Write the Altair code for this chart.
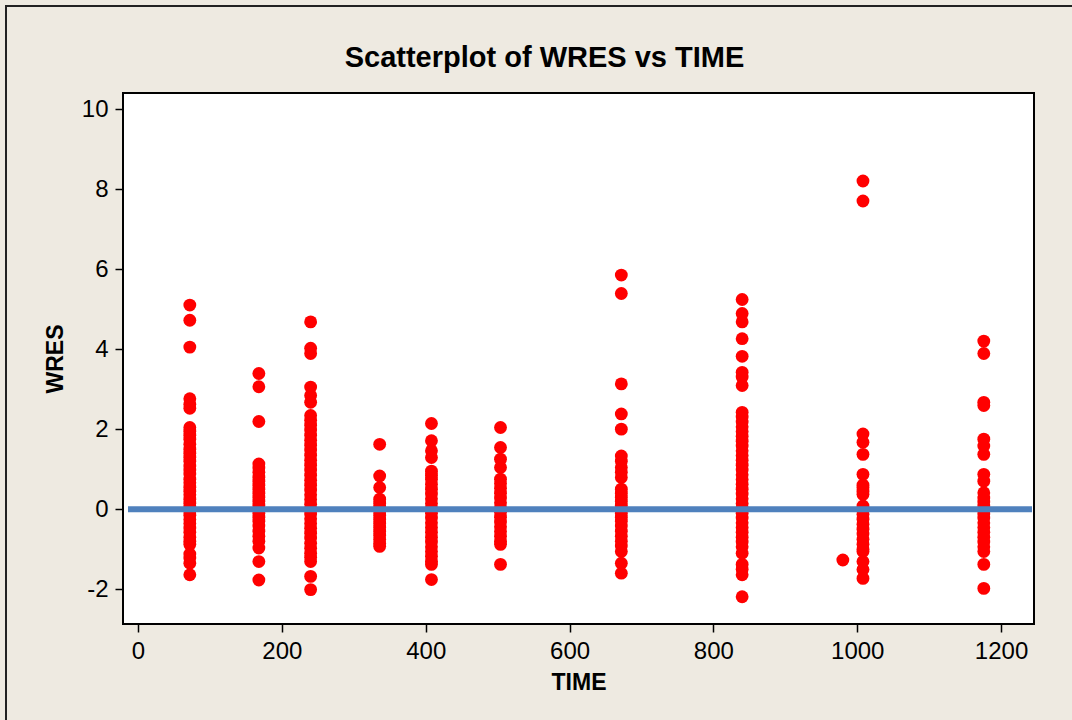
import altair as alt
import pandas as pd

# ---- data (TIME column -> WRES values) ----
t72 = [5.1, 4.72, 4.05, 2.76, 2.62, 2.52, 2.04, 1.95, 1.85, 1.75, 1.62, 1.5, 1.4, 1.3, 1.2,
       1.08, 0.98, 0.88, 0.75, 0.66, 0.55, 0.45, 0.36, 0.25, 0.15, 0.05, -0.05, -0.15,
       -0.26, -0.36, -0.47, -0.58, -0.7, -0.8, -0.88, -1.12, -1.22, -1.35, -1.64]
t168 = [3.39, 3.06, 2.19, 1.13, 1.03, 0.92, 0.8, 0.7, 0.6, 0.5, 0.4, 0.3, 0.2, 0.1, 0.0,
        -0.1, -0.2, -0.3, -0.42, -0.55, -0.68, -0.8, -0.97, -1.31, -1.77]
t240 = [4.68, 4.02, 3.89, 3.05, 2.84, 2.67, 2.34, 2.22, 2.1, 1.98, 1.85, 1.72, 1.6, 1.48,
        1.35, 1.22, 1.1, 0.98, 0.85, 0.72, 0.6, 0.48, 0.36, 0.24, 0.12, 0.0, -0.12, -0.24,
        -0.36, -0.48, -0.6, -0.72, -0.85, -0.98, -1.1, -1.2, -1.31, -1.68, -2.01]
t336 = [1.62, 0.83, 0.54, 0.25, 0.15, 0.05, -0.05, -0.15, -0.25, -0.35, -0.45, -0.55,
        -0.65, -0.75, -0.85, -0.93]
t408 = [2.14, 1.71, 1.46, 1.29, 0.95, 0.85, 0.75, 0.62, 0.5, 0.38, 0.26, 0.14, 0.02, -0.1,
        -0.22, -0.34, -0.46, -0.58, -0.7, -0.82, -0.94, -1.06, -1.18, -1.3, -1.38, -1.76]
t504 = [2.04, 1.54, 1.25, 1.04, 0.75, 0.64, 0.52, 0.4, 0.28, 0.16, 0.04, -0.08, -0.2,
        -0.32, -0.44, -0.56, -0.68, -0.8, -0.88, -1.38]
t672 = [5.85, 5.39, 3.13, 2.38, 2.0, 1.33, 1.2, 1.04, 0.92, 0.79, 0.5, 0.4, 0.3, 0.2, 0.1,
        0.0, -0.1, -0.2, -0.3, -0.42, -0.55, -0.68, -0.8, -0.92, -1.06, -1.35, -1.6]
t840 = [5.24, 4.89, 4.68, 4.26, 3.82, 3.42, 3.3, 3.09, 2.42, 2.3, 2.18, 2.06, 1.94, 1.82,
        1.7, 1.58, 1.46, 1.34, 1.22, 1.1, 0.98, 0.86, 0.74, 0.62, 0.5, 0.38, 0.26, 0.14,
        0.02, -0.1, -0.22, -0.34, -0.46, -0.58, -0.7, -0.82, -0.94, -1.1, -1.38, -1.5,
        -1.64, -2.19]
t980 = [-1.27]
t1008 = [8.2, 7.7, 1.88, 1.67, 1.37, 0.87, 0.6, 0.54, 0.45, 0.37, 0.08, -0.02, -0.13,
         -0.25, -0.38, -0.5, -0.62, -0.75, -0.88, -1.0, -1.06, -1.31, -1.51, -1.73]
t1176 = [4.2, 3.89, 2.67, 2.59, 1.75, 1.58, 1.37, 0.87, 0.7, 0.41, 0.28, 0.18, 0.08,
         -0.02, -0.12, -0.22, -0.34, -0.46, -0.58, -0.7, -0.82, -0.94, -1.06, -1.38, -1.98]

times = [72, 168, 240, 336, 408, 504, 672, 840, 980, 1008, 1176]
columns = [t72, t168, t240, t336, t408, t504, t672, t840, t980, t1008, t1176]

x_ticks = [0, 200, 400, 600, 800, 1000, 1200]
y_ticks = [-2, 0, 2, 4, 6, 8, 10]
x_domain = [-20.9, 1245.8]
y_domain = [-2.87, 10.40]
ref_line = [0]
title_text = ["Scatterplot of WRES vs TIME"]

rows = []
for t, vals in zip(times, columns):
    for v in vals:
        rows.append({"TIME": t, "WRES": v})
df = pd.DataFrame(rows)

FONT = "Liberation Sans"
W, H = 911, 531
PAD_L, PAD_T = 123, 93

xscale = alt.Scale(domain=x_domain, nice=False, zero=False)
yscale = alt.Scale(domain=y_domain, nice=False, zero=False)

xaxis = alt.Axis(values=x_ticks, grid=False, domain=False, tickColor="black", tickWidth=1.5,
                 tickSize=8, labelFont=FONT, labelFontSize=24, labelColor="black",
                 labelExpr="datum.value + ''",
                 labelBaseline="alphabetic", labelPadding=26, title="TIME",
                 titleFont=FONT, titleFontSize=23, titleFontWeight="bold", titleColor="black",
                 titleBaseline="alphabetic", titleY=65)
yaxis = alt.Axis(values=y_ticks, grid=False, domain=False, tickColor="black", tickWidth=1.5,
                 tickSize=8, labelFont=FONT, labelFontSize=24, labelColor="black",
                 labelExpr="datum.value + ''",
                 labelPadding=7, title="WRES", titleFont=FONT, titleFontSize=23,
                 titleFontWeight="bold", titleColor="black", titleBaseline="alphabetic",
                 titleX=-61, titleAngle=270)

points = alt.Chart(df).mark_circle(size=165, color="#FF0000", opacity=1).encode(
    x=alt.X("TIME:Q", scale=xscale, axis=xaxis),
    y=alt.Y("WRES:Q", scale=yscale, axis=yaxis),
)

zero = alt.Chart(pd.DataFrame({"WRES": ref_line})).mark_rule(
    color="#4F81BD", strokeWidth=6).encode(
    y=alt.Y("WRES:Q"), x=alt.value(5), x2=alt.value(909))

one = pd.DataFrame({"a": [0]})
frame_left = alt.Chart(one).mark_rule(color="#222222", strokeWidth=2).encode(
    x=alt.value(6 - PAD_L), y=alt.value(5 - PAD_T), y2=alt.value(740 - PAD_T))
frame_top = alt.Chart(one).mark_rule(color="#222222", strokeWidth=2).encode(
    y=alt.value(6 - PAD_T), x=alt.value(5 - PAD_L), x2=alt.value(1090 - PAD_L))

title = alt.Chart(pd.DataFrame({"t": title_text})).mark_text(
    font=FONT, fontSize=29, fontWeight="bold", color="black", align="center",
    baseline="alphabetic").encode(
    text="t:N", x=alt.value(W / 2 - 34), y=alt.value(-26))

chart = alt.layer(frame_left, frame_top, title, points, zero).properties(
    width=W, height=H,
    autosize=alt.AutoSizeParams(type="none"),
    padding={"left": PAD_L, "top": PAD_T, "right": 1072 - PAD_L - W, "bottom": 720 - PAD_T - H},
    background="#EEEAE1",
).configure_view(fill="white", stroke="black", strokeWidth=2)

chart.save("out.html", embed_options={"renderer": "svg", "actions": False})
